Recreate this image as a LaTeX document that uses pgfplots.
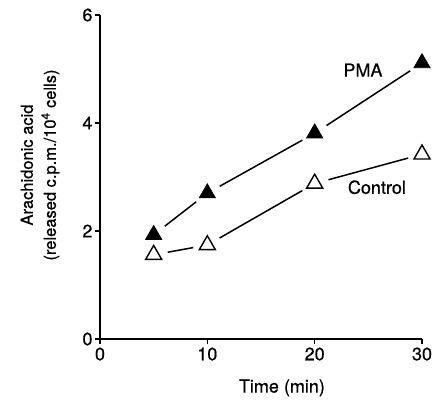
\documentclass[border=0pt]{standalone}
\usepackage{pgfplots}
\pgfplotsset{compat=1.18}
\usepackage{pgfplotstable}
\usepackage{fontspec}
\setmainfont{TeX Gyre Heros}[FakeBold=0.6]

\pgfplotstableread{
t v
5 1.93
10 2.70
20 3.81
30 5.11
}\pma
\pgfplotstableread{
t v
5 1.56
10 1.74
20 2.88
30 3.42
}\control

\begin{document}
\begin{tikzpicture}
\begin{axis}[
    scale only axis,
    width=322pt, height=324pt,
    xmin=0, xmax=30, ymin=0, ymax=6,
    axis lines=left,
    axis line style={-, line width=1.5pt},
    xtick={0,10,20,30}, ytick={0,2,4,6},
    tick align=outside,
    major tick length=5pt,
    tick style={line width=1.3pt, black},
    /pgf/number format/assume math mode=true,
    ticklabel style={font=\fontsize{18}{20}\selectfont},
    yticklabel style={xshift=1pt},
    xlabel={Time (min)},
    ylabel={Arachidonic acid\\(released c.p.m./10\textsuperscript{4} cells)},
    xlabel style={font=\fontsize{18}{20}\selectfont, at={(axis description cs:0.565,-0.151)}, anchor=center},
    ylabel style={font=\fontsize{16.5}{23}\selectfont, at={(axis description cs:-0.186,0.537)}, anchor=center, align=center},
    clip=false,
]
% lines
\addplot[black, line width=1.5pt, mark=none] table[x=t, y=v] {\pma};
\addplot[black, line width=1.5pt, mark=none] table[x=t, y=v] {\control};
% white gaps round the points
\addplot[only marks, draw=none, mark=*, mark size=14pt, mark options={fill=white, draw=white}] table[x=t, y=v] {\pma};
\addplot[only marks, draw=none, mark=*, mark size=14pt, mark options={fill=white, draw=white}] table[x=t, y=v] {\control};
% markers
\addplot[only marks, mark=triangle*, mark size=9.3pt, mark options={fill=black, draw=black, line width=0.8pt}] table[x=t, y=v] {\pma};
\addplot[only marks, mark=triangle*, mark size=9.3pt, mark options={fill=white, draw=black, line width=1.4pt}] table[x=t, y=v] {\control};
\node[font=\fontsize{18}{20}\selectfont] at (axis cs:24.5,4.98) {PMA};
\node[font=\fontsize{18}{20}\selectfont] at (axis cs:25.8,2.81) {Control};
\end{axis}
\pgfresetboundingbox
\path (-100pt,-64pt) rectangle (335pt,339pt);
\end{tikzpicture}
\end{document}
